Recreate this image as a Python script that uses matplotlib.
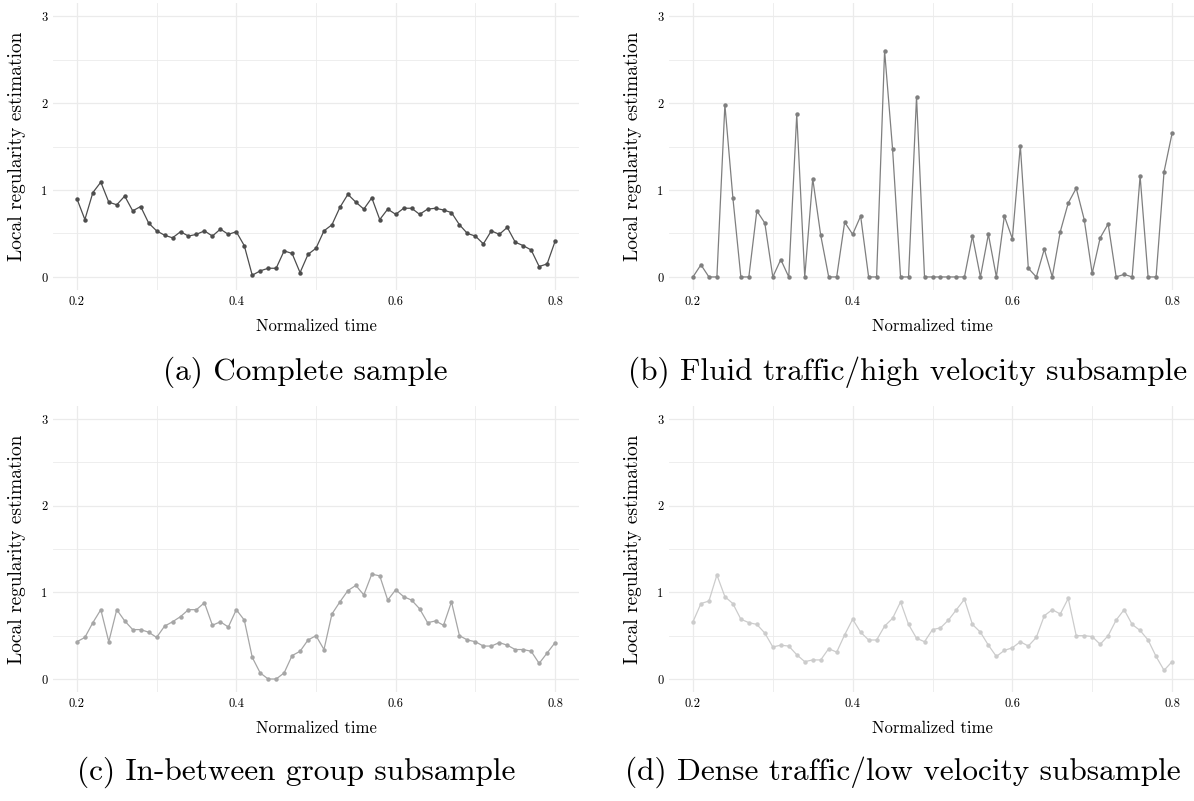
import numpy as np
import matplotlib
matplotlib.use("Agg")
import matplotlib.pyplot as plt
from matplotlib.ticker import MultipleLocator

plt.rcParams['font.family'] = ['cmr10', 'DejaVu Serif']
plt.rcParams['axes.formatter.use_mathtext'] = True

time = [round(0.20 + 0.01 * i, 2) for i in range(61)]

complete = [0.90, 0.66, 0.97, 1.09, 0.86, 0.83, 0.93, 0.76, 0.81, 0.62,
            0.53, 0.48, 0.45, 0.52, 0.47, 0.49, 0.53, 0.47, 0.55, 0.49,
            0.52, 0.36, 0.02, 0.07, 0.10, 0.10, 0.30, 0.27, 0.05, 0.26,
            0.33, 0.53, 0.60, 0.80, 0.95, 0.86, 0.78, 0.91, 0.66, 0.78,
            0.72, 0.79, 0.79, 0.72, 0.78, 0.79, 0.77, 0.74, 0.60, 0.50,
            0.47, 0.38, 0.53, 0.49, 0.57, 0.40, 0.36, 0.31, 0.12, 0.15,
            0.41]

fluid = [0.00, 0.14, 0.00, 0.00, 1.98, 0.91, 0.00, 0.00, 0.76, 0.62,
         0.00, 0.20, 0.00, 1.87, 0.00, 1.13, 0.48, 0.00, 0.00, 0.63,
         0.49, 0.70, 0.00, 0.00, 2.60, 1.47, 0.00, 0.00, 2.07, 0.00,
         0.00, 0.00, 0.00, 0.00, 0.00, 0.47, 0.00, 0.49, 0.00, 0.70,
         0.44, 1.51, 0.10, 0.00, 0.32, 0.00, 0.52, 0.85, 1.02, 0.66,
         0.04, 0.45, 0.61, 0.00, 0.03, 0.00, 1.16, 0.00, 0.00, 1.21,
         1.65]

inbetween = [0.43, 0.48, 0.65, 0.80, 0.43, 0.80, 0.67, 0.57, 0.57, 0.54,
             0.48, 0.61, 0.66, 0.72, 0.80, 0.80, 0.88, 0.62, 0.66, 0.60,
             0.80, 0.68, 0.25, 0.07, 0.00, 0.00, 0.07, 0.27, 0.32, 0.45,
             0.50, 0.34, 0.75, 0.89, 1.02, 1.08, 0.97, 1.21, 1.19, 0.91,
             1.03, 0.95, 0.91, 0.81, 0.65, 0.67, 0.62, 0.89, 0.50, 0.45,
             0.43, 0.38, 0.38, 0.42, 0.39, 0.34, 0.34, 0.32, 0.18, 0.30,
             0.42]

dense = [0.66, 0.87, 0.90, 1.20, 0.95, 0.87, 0.69, 0.65, 0.63, 0.53,
         0.37, 0.39, 0.38, 0.28, 0.20, 0.22, 0.22, 0.35, 0.31, 0.51,
         0.69, 0.54, 0.45, 0.45, 0.61, 0.70, 0.89, 0.63, 0.47, 0.43,
         0.57, 0.59, 0.68, 0.80, 0.92, 0.63, 0.54, 0.39, 0.26, 0.33,
         0.36, 0.43, 0.38, 0.48, 0.73, 0.80, 0.75, 0.93, 0.50, 0.50,
         0.49, 0.40, 0.50, 0.68, 0.80, 0.63, 0.56, 0.45, 0.26, 0.10,
         0.20]

x_ticks = [0.2, 0.4, 0.6, 0.8]
x_tick_labels = ["0.2", "0.4", "0.6", "0.8"]
y_ticks = [0, 1, 2, 3]
y_tick_labels = ["0", "1", "2", "3"]

captions = ["(a) Complete sample",
            "(b) Fluid traffic/high velocity subsample",
            "(c) In-between group subsample",
            "(d) Dense traffic/low velocity subsample"]
colors = ["#4d4d4d", "#7f7f7f", "#a6a6a6", "#cccccc"]
series = [complete, fluid, inbetween, dense]

W, H = 1194, 801
fig = plt.figure(figsize=(W / 100, H / 100), dpi=100)

# panel boxes in pixels: left, top, right, bottom
boxes = [(53, 3, 579, 290), (669, 3, 1196, 290),
         (53, 406, 579, 692), (669, 406, 1196, 692)]
cap_pos = [(305, 372), (908, 372), (296, 772), (903, 772)]

for i, (box, y, col, cap) in enumerate(zip(boxes, series, colors, captions)):
    l, t, r, b = box
    ax = fig.add_axes([l / W, 1 - b / H, (r - l) / W, (b - t) / H])
    ax.plot(time, y, color=col, lw=0.9, marker='o', ms=3.2, mew=0)
    ax.set_xlim(0.17, 0.83)
    ax.set_ylim(-0.15, 3.15)
    ax.xaxis.set_minor_locator(MultipleLocator(0.1))
    ax.yaxis.set_minor_locator(MultipleLocator(0.5))
    ax.set_xticks(x_ticks)
    ax.set_xticklabels(x_tick_labels)
    ax.set_yticks(y_ticks)
    ax.set_yticklabels(y_tick_labels)
    ax.grid(True, which='major', color='#ebebeb', lw=0.9)
    ax.grid(True, which='minor', color='#ebebeb', lw=0.6)
    ax.set_axisbelow(True)
    for s in ax.spines.values():
        s.set_visible(False)
    ax.tick_params(which='both', length=0, labelsize=9, pad=4)
    ax.set_xlabel("Normalized time", fontsize=12, va='center')
    ax.set_ylabel("Local regularity estimation", fontsize=14, va='center')
    ax.yaxis.set_label_coords(-35.5 / (r - l), 0.5)
    ax.xaxis.set_label_coords(0.5, -36 / (b - t))
    cx, cy = cap_pos[i]
    fig.text(cx / W, 1 - cy / H, cap, ha='center', va='center', fontsize=22.5)

fig.savefig("out.png", dpi=100)
